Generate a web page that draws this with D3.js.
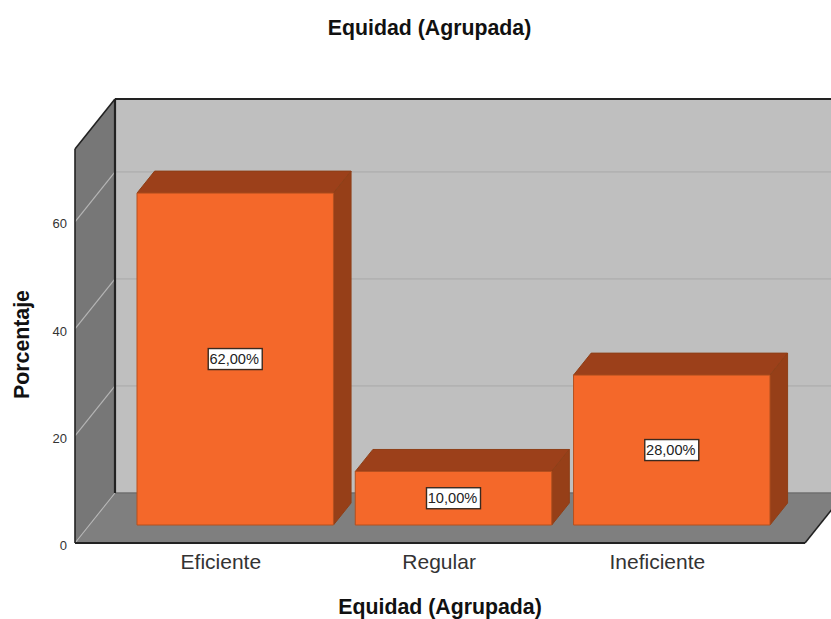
<!DOCTYPE html>
<html>
<head>
<meta charset="utf-8">
<script src="https://cdn.jsdelivr.net/npm/d3@7/dist/d3.min.js"></script>
<style>
html,body{margin:0;padding:0;background:#fff;overflow:hidden}
svg{display:block}
text{font-family:"Liberation Sans",Arial,sans-serif}
</style>
</head>
<body>
<svg id="c" width="831" height="619"></svg>
<script>
const categories = ["Eficiente","Regular","Ineficiente"];
const values = [62,10,28];
const valueLabels = ["62,00%","10,00%","28,00%"];
const yTicks = [0,20,40,60];
const chartTitle = "Equidad (Agrupada)";
const yTitle = "Porcentaje";
const xTitle = "Equidad (Agrupada)";

const svg = d3.select("#c");
const W = 831, H = 619;
const x0 = 75, x1 = 805, y0 = 543, yTop = 149;
const depthX = 40, depthY = 50;
const barD0 = 0.36, barD1 = 0.8;

const x = d3.scaleBand().domain(categories).range([111.7,766.5]).paddingInner(0.1).paddingOuter(0.05);
const y = d3.scaleLinear().domain([0,73.6]).range([y0,yTop]);
// project a point (screen x at front, value, depth 0..1)
const P = (px,v,d) => [px + depthX*d, y(v) - depthY*d];
const poly = pts => pts.map(p=>p.map(n=>n.toFixed(2)).join(",")).join(" ");

const clip = svg.append("defs").append("clipPath").attr("id","page");
clip.append("rect").attr("width",W).attr("height",H);
const g = svg.append("g").attr("clip-path","url(#page)");
const vMax = y.domain()[1];

// back wall
g.append("polygon").attr("points",poly([P(x0,0,1),P(x1,0,1),P(x1,vMax,1),P(x0,vMax,1)])).attr("fill","#bfbfbf");
// side wall
g.append("polygon").attr("points",poly([P(x0,0,0),P(x0,0,1),P(x0,vMax,1),P(x0,vMax,0)])).attr("fill","#777777");
// floor
g.append("polygon").attr("points",poly([P(x0,0,0),P(x1,0,0),P(x1,0,1),P(x0,0,1)])).attr("fill","#7f7f7f");

// grid
yTicks.filter(t=>t>0).forEach(t=>{
  const a=P(x0,t,1), b=P(x1,t,1), c=P(x0,t,0);
  g.append("line").attr("x1",a[0]).attr("y1",a[1]).attr("x2",b[0]).attr("y2",b[1]).attr("stroke","#b2b2b2").attr("stroke-width",1.8);
  g.append("line").attr("x1",c[0]).attr("y1",c[1]).attr("x2",a[0]).attr("y2",a[1]).attr("stroke","#b5b5b5").attr("stroke-width",1.2);
});
{
  const a=P(x0,0,1), c=P(x0,0,0);
  g.append("line").attr("x1",c[0]).attr("y1",c[1]).attr("x2",a[0]).attr("y2",a[1]).attr("stroke","#b5b5b5").attr("stroke-width",1.1);
  g.append("line").attr("x1",a[0]).attr("y1",a[1]).attr("x2",P(x1,0,1)[0]).attr("y2",a[1]).attr("stroke","#6f6f6f").attr("stroke-width",1.5);
}

// frame lines
const frame = [
  [P(x0,0,1),P(x0,vMax,1),2.2],
  [P(x0,vMax,1),P(x1,vMax,1),2.2],
  [P(x0,vMax,1),P(x0,vMax,0),1.6],
  [P(x0,vMax,0),P(x0,0,0),1.6],
  [P(x0,0,0),P(x1,0,0),2.2],
  [P(x1,0,0),P(x1,0,1),1.6]
];
frame.forEach(f=>g.append("line").attr("x1",f[0][0]).attr("y1",f[0][1]).attr("x2",f[1][0]).attr("y2",f[1][1]).attr("stroke","#222").attr("stroke-width",f[2]));

// bars
const bars = g.selectAll("g.bar").data(categories.map((c,i)=>({c,v:values[i],l:valueLabels[i]}))).join("g").attr("class","bar");
const bs = "#8e3f17";
bars.append("polygon").attr("fill","#9c401a").attr("stroke",bs).attr("stroke-width",1)
  .attr("points",d=>{const l=x(d.c),r=l+x.bandwidth();return poly([P(l,d.v,barD0),P(r,d.v,barD0),P(r,d.v,barD1),P(l,d.v,barD1)]);});
bars.append("polygon").attr("fill","#963f18").attr("stroke",bs).attr("stroke-width",1)
  .attr("points",d=>{const r=x(d.c)+x.bandwidth();return poly([P(r,0,barD0),P(r,0,barD1),P(r,d.v,barD1),P(r,d.v,barD0)]);});
bars.append("polygon").attr("fill","#f4682a").attr("stroke","#b4501f").attr("stroke-width",1)
  .attr("points",d=>{const l=x(d.c),r=l+x.bandwidth();return poly([P(l,0,barD0),P(r,0,barD0),P(r,d.v,barD0),P(l,d.v,barD0)]);});

// value labels
bars.each(function(d){
  const s=d3.select(this);
  const c=P(x(d.c)+x.bandwidth()/2,d.v/2,barD0);
  s.append("rect").attr("x",c[0]-27).attr("y",c[1]-10.5).attr("width",54).attr("height",21)
    .attr("fill","#fff").attr("stroke","#3a2a20").attr("stroke-width",1.4);
  s.append("text").attr("x",c[0]-1).attr("y",c[1]+5).attr("text-anchor","middle").attr("font-size",14.6).attr("fill","#222").text(d.l);
});

// axes (labels only)
const yAxis = svg.append("g").attr("transform",`translate(${x0-8},2)`).call(d3.axisLeft(y).tickValues(yTicks).tickSize(0).tickPadding(0).tickFormat(d3.format("d")));
yAxis.select(".domain").remove();
yAxis.selectAll("text").attr("font-size",13).attr("font-family",null).attr("fill","#333");

const xAxis = svg.append("g").attr("transform",`translate(0,${y0+11})`).call(d3.axisBottom(x).tickSize(0).tickPadding(0));
xAxis.select(".domain").remove();
xAxis.selectAll("text").attr("font-size",21).attr("font-family",null).attr("fill","#333").attr("dy","0.71em");

// titles
svg.append("text").attr("x",429.5).attr("y",35).attr("text-anchor","middle").attr("font-size",21.3).attr("font-weight","bold").attr("fill","#111").text(chartTitle);
svg.append("text").attr("x",440).attr("y",614).attr("text-anchor","middle").attr("font-size",21.3).attr("font-weight","bold").attr("fill","#111").text(xTitle);
svg.append("text").attr("transform","translate(29,344.5) rotate(-90)").attr("text-anchor","middle").attr("font-size",21.3).attr("font-weight","bold").attr("fill","#111").text(yTitle);
</script>
</body>
</html>
